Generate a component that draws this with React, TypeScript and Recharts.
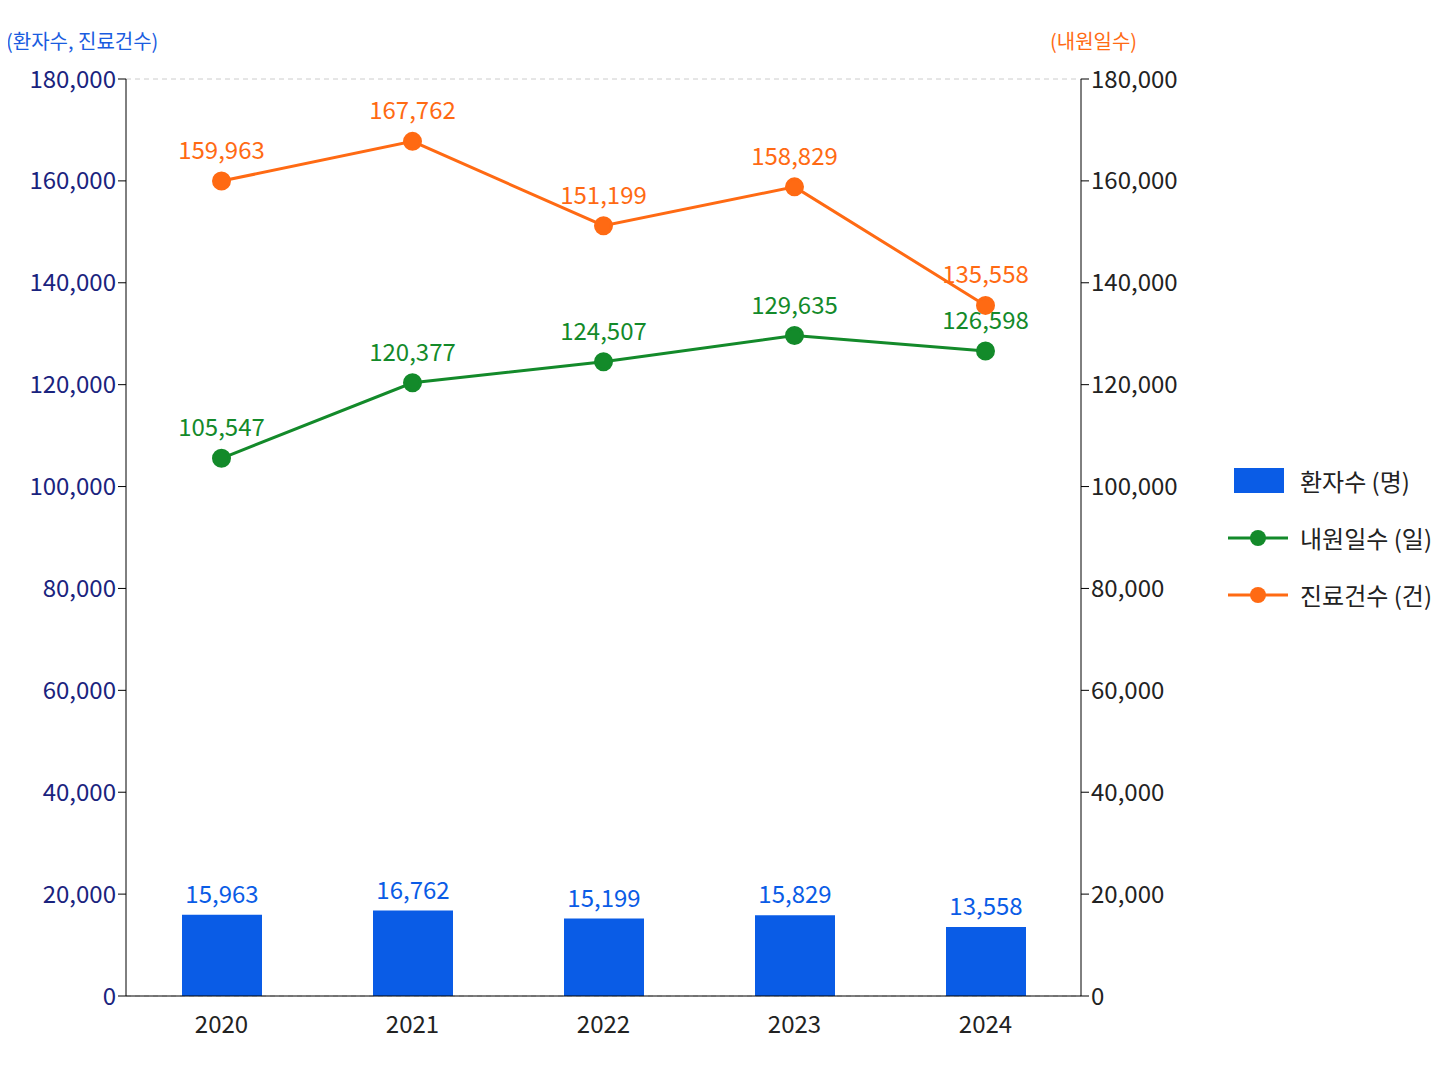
import { ComposedChart, Bar, Line, XAxis, YAxis, CartesianGrid, LabelList } from 'recharts'

const years = ['2020', '2021', '2022', '2023', '2024']
const patients = [15963, 16762, 15199, 15829, 13558]
const visitDays = [105547, 120377, 124507, 129635, 126598]
const treatments = [159963, 167762, 151199, 158829, 135558]
const ticks = [0, 20000, 40000, 60000, 80000, 100000, 120000, 140000, 160000, 180000]

const data = years.map((y, i) => ({
  year: y,
  patients: patients[i],
  visitDays: visitDays[i],
  treatments: treatments[i],
}))

const BLUE = '#0a5ce6'
const GREEN = '#138a2a'
const ORANGE = '#ff6a13'
const FONT = '"Noto Sans CJK KR", "Noto Sans", sans-serif'
const fmt = (v: number) => v.toLocaleString('en-US')

function LegendBox() {
  const row = { display: 'flex', alignItems: 'center', height: 57, fontSize: 24, color: '#222' } as const
  return (
    <div style={{ position: 'absolute', left: 1220, top: 444, fontFamily: FONT }}>
      <div style={row}>
        <div style={{ width: 50, height: 25, background: BLUE, marginLeft: 6, marginRight: 16 }} />
        환자수 (명)
      </div>
      <div style={row}>
        <svg width={72} height={20}>
          <line x1={0} y1={10} x2={60} y2={10} stroke={GREEN} strokeWidth={3} />
          <circle cx={30} cy={10} r={8} fill={GREEN} />
        </svg>
        내원일수 (일)
      </div>
      <div style={row}>
        <svg width={72} height={20}>
          <line x1={0} y1={10} x2={60} y2={10} stroke={ORANGE} strokeWidth={3} />
          <circle cx={30} cy={10} r={8} fill={ORANGE} />
        </svg>
        진료건수 (건)
      </div>
    </div>
  )
}

export default function App() {
  return (
    <div style={{ position: 'relative', width: 1432, height: 1078, fontFamily: FONT, background: '#fff' }}>
      <div style={{ position: 'absolute', left: -2, top: 18, fontSize: 20, color: '#1a5ce0' }}>(환자수, 진료건수)</div>
      <div style={{ position: 'absolute', left: 1042, top: 18, fontSize: 20, color: ORANGE }}>(내원일수)</div>
      <ComposedChart width={1432} height={1078} data={data} margin={{ top: 71, right: 239, bottom: 50, left: 0 }}>
        <CartesianGrid vertical={false} stroke="#cccccc" strokeDasharray="5 4" />
        <XAxis dataKey="year" axisLine={{ stroke: '#000' }} tickLine={false}
          tick={{ fill: '#222', fontSize: 24, fontFamily: FONT }} height={40} tickMargin={14} />
        <YAxis yAxisId="left" width={118} domain={[0, 180000]} ticks={ticks} tickFormatter={fmt}
          axisLine={{ stroke: '#000' }} tickLine={{ stroke: '#000' }} tickSize={8}
          tick={{ fill: '#1a237e', fontSize: 24, fontFamily: FONT }} />
        <YAxis yAxisId="right" orientation="right" width={120} domain={[0, 180000]} ticks={ticks} tickFormatter={fmt}
          axisLine={{ stroke: '#000' }} tickLine={{ stroke: '#000' }} tickSize={8}
          tick={{ fill: '#222', fontSize: 24, fontFamily: FONT, textAnchor: 'start' }} />
        <Bar yAxisId="left" dataKey="patients" fill={BLUE} barSize={80} isAnimationActive={false}>
          <LabelList dataKey="patients" position="top" offset={12} formatter={(v: any) => fmt(v)}
            style={{ fill: BLUE, fontSize: 24, fontFamily: FONT }} />
        </Bar>
        <Line yAxisId="right" dataKey="visitDays" stroke={GREEN} strokeWidth={3}
          dot={{ r: 8, fill: GREEN, stroke: GREEN }} isAnimationActive={false}>
          <LabelList dataKey="visitDays" position="top" offset={22} formatter={(v: any) => fmt(v)}
            style={{ fill: GREEN, fontSize: 24, fontFamily: FONT }} />
        </Line>
        <Line yAxisId="left" dataKey="treatments" stroke={ORANGE} strokeWidth={3}
          dot={{ r: 8, fill: ORANGE, stroke: ORANGE }} isAnimationActive={false}>
          <LabelList dataKey="treatments" position="top" offset={22} formatter={(v: any) => fmt(v)}
            style={{ fill: ORANGE, fontSize: 24, fontFamily: FONT }} />
        </Line>
      </ComposedChart>
      <LegendBox />
    </div>
  )
}
